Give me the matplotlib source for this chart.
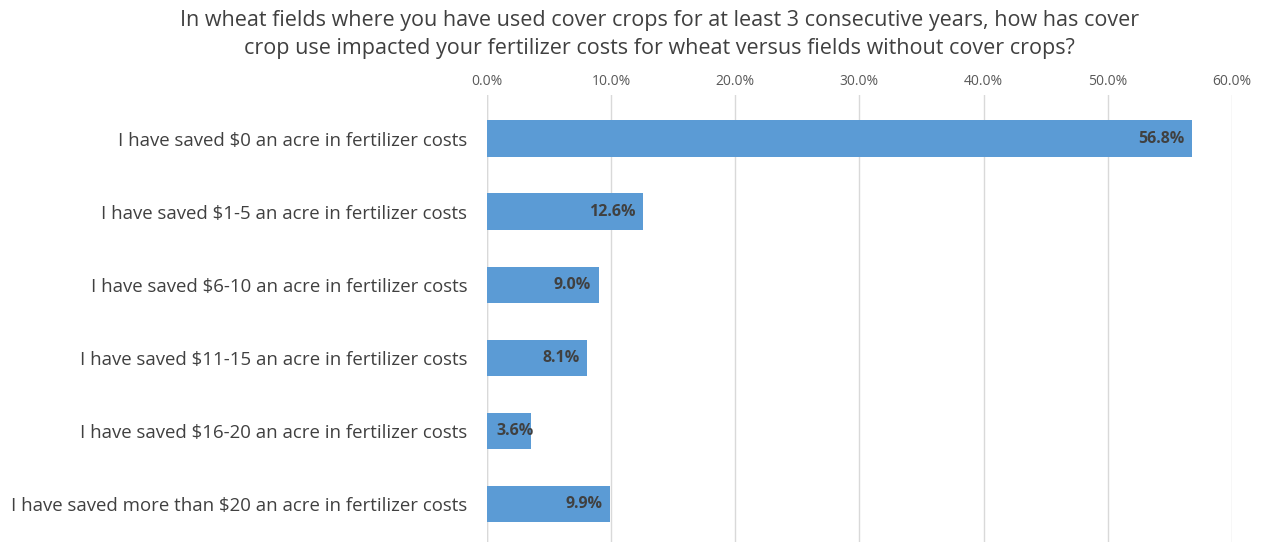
import matplotlib
matplotlib.use("Agg")
import matplotlib.pyplot as plt
from matplotlib.ticker import PercentFormatter

plt.rcParams['font.family'] = ['Open Sans', 'DejaVu Sans']

categories = [
    "I have saved $0 an acre in fertilizer costs",
    "I have saved $1-5 an acre in fertilizer costs",
    "I have saved $6-10 an acre in fertilizer costs",
    "I have saved $11-15 an acre in fertilizer costs",
    "I have saved $16-20 an acre in fertilizer costs",
    "I have saved more than $20 an acre in fertilizer costs",
]
values = [56.8, 12.6, 9.0, 8.1, 3.6, 9.9]
title = ("In wheat fields where you have used cover crops for at least 3 consecutive years, how has cover\n"
         "crop use impacted your fertilizer costs for wheat versus fields without cover crops?")

fig = plt.figure(figsize=(12.61, 5.42), dpi=100)
ax = fig.add_axes([0.386, 0.0, 0.591, 0.825])

y = list(range(len(categories)))
ax.barh(y, values, height=0.5, color='#5B9BD5', zorder=3)
for yi, v in zip(y, values):
    if v > 6:
        ax.text(v - 0.6, yi, f"{v:.1f}%", ha='right', va='center',
                fontsize=11.5, fontweight='bold', color='#404040', zorder=4)
    else:
        ax.text(0.8, yi, f"{v:.1f}%", ha='left', va='center',
                fontsize=11.5, fontweight='bold', color='#404040', zorder=4)

ax.set_xlim(0, 60)
ax.set_ylim(5.52, -0.6)
ax.set_xticks(range(0, 61, 10))
ax.xaxis.set_major_formatter(PercentFormatter(decimals=1))
ax.xaxis.tick_top()
ax.tick_params(axis='x', length=0, labelsize=10, colors='#595959', pad=4)
ax.set_yticks(y)
ax.set_yticklabels(categories)
ax.tick_params(axis='y', length=0, labelsize=13.4, labelcolor='#404040', pad=14)
ax.grid(axis='x', color='#D9D9D9', linewidth=1, zorder=0)
for s in ax.spines.values():
    s.set_visible(False)
ax.axvline(0, color='#D9D9D9', linewidth=1, zorder=1)

fig.text(0.523, 0.936, title, ha='center', va='center', fontsize=15.5,
         color='#404040', linespacing=1.4)

fig.savefig("out.png", dpi=100)
